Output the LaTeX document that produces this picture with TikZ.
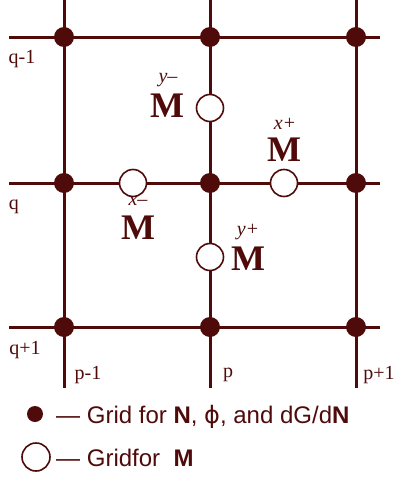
\documentclass[tikz,border=0pt]{standalone}
\usepackage{fontspec}
\setmainfont{Liberation Serif}
\setsansfont{Liberation Sans}
\newfontfamily\phifont{DejaVu Sans}
\definecolor{gridred}{HTML}{4F0A0A}

\begin{document}
\begin{tikzpicture}[
        x=1pt, y=-1pt,
        every node/.style={text=gridred},
        gl/.style={draw=gridred, line width=3pt},
        dot/.style={circle, fill=gridred, inner sep=0pt, minimum size=20pt},
        mpt/.style={circle, draw=gridred, line width=1.6pt, fill=white,
          inner sep=0pt, minimum size=27pt},
        idx/.style={font=\fontsize{20}{22}\selectfont, inner sep=0pt},
        dirlbl/.style={font=\fontsize{20}{22}\selectfont\itshape, inner sep=0pt},
        mm/.style={font=\fontsize{36}{40}\selectfont\bfseries, inner sep=0pt},
        leg/.style={font=\fontsize{24}{28}\selectfont\sffamily, inner sep=0pt,
          anchor=base west},
      ]
      \useasboundingbox (0,0) rectangle (396,479);

      % grid lines
      \coordinate (v1t) at (64,0);   \coordinate (v1b) at (64,388);
      \coordinate (v2t) at (210,0);  \coordinate (v2b) at (210,388);
      \coordinate (v3t) at (356,0);  \coordinate (v3b) at (356,388);
      \coordinate (h1l) at (9,37);   \coordinate (h1r) at (380,37);
      \coordinate (h2l) at (9,183);  \coordinate (h2r) at (380,183);
      \coordinate (h3l) at (9,327);  \coordinate (h3r) at (380,327);

      \draw[gl] (v1t) -- (v1b);
      \draw[gl] (v2t) -- (v2b);
      \draw[gl] (v3t) -- (v3b);
      \draw[gl] (h1l) -- (h1r);
      \draw[gl] (h2l) -- (h2r);
      \draw[gl] (h3l) -- (h3r);

      % N grid points
      \node[dot] (n11) at (64,37) {};
      \node[dot] (n12) at (210,37) {};
      \node[dot] (n13) at (356,37) {};
      \node[dot] (n21) at (64,183) {};
      \node[dot] (n22) at (210,183) {};
      \node[dot] (n23) at (356,183) {};
      \node[dot] (n31) at (64,327) {};
      \node[dot] (n32) at (210,327) {};
      \node[dot] (n33) at (356,327) {};

      % M grid points
      \node[mpt] (mxm) at (133,183) {};
      \node[mpt] (mxp) at (284,183) {};
      \node[mpt] (mym) at (210,108) {};
      \node[mpt] (myp) at (210,257) {};

      \node[dirlbl] (lym) at (168,80) {y–};
      \node[mm]     (Mym) at (167,106) {M};
      \node[dirlbl] (lxp) at (285,124) {x+};
      \node[mm]     (Mxp) at (284,150) {M};
      \node[dirlbl] (lxm) at (138,201) {x–};
      \node[mm]     (Mxm) at (138,228) {M};
      \node[dirlbl] (lyp) at (248,232) {y+};
      \node[mm]     (Myp) at (248,259) {M};

      % indices
      \node[idx] (qm) at (22,59) {q-1};
      \node[idx] (q0) at (14,207) {q};
      \node[idx] (qp) at (25,350) {q+1};
      \node[idx] (pm) at (88,375) {p-1};
      \node[idx] (p0) at (228,375) {p};
      \node[idx] (pp) at (379,375) {p+1};

      % legend
      \node[dot, minimum size=16pt] (ldot) at (35,414) {};
      \node[leg] (ltxt1) at (56,423) {— Grid for \textbf{N}, {\phifont ϕ}, and dG/d\textbf{N}};
      \node[mpt, minimum size=28pt] (lcirc) at (36,457) {};
      \node[leg] (ltxt2) at (56,466) {— Gridfor~~\textbf{M}};
    \end{tikzpicture}
\end{document}
